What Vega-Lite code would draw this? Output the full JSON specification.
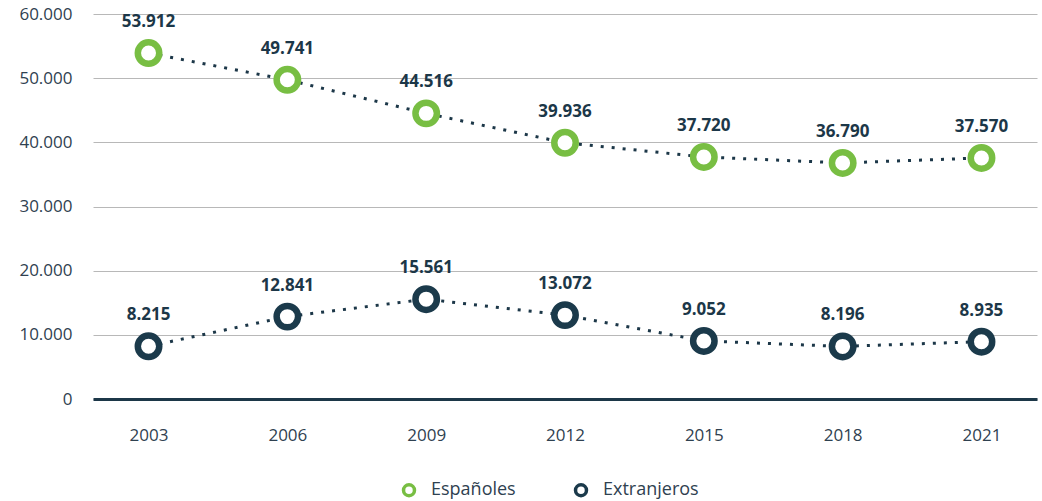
{
  "$schema": "https://vega.github.io/schema/vega-lite/v6.json",
  "width": 944,
  "height": 385,
  "autosize": {"type": "none"},
  "padding": {"left": 93, "top": 14, "right": 5, "bottom": 102},
  "background": "white",
  "config": {
    "locale": {"number": {"decimal": ",", "thousands": ".", "grouping": [3], "currency": ["", " €"]}},
    "view": {"stroke": null},
    "font": "Open Sans"
  },
  "data": {
    "values": [
      {"year": "2003", "serie": "Españoles", "value": 53912},
      {"year": "2006", "serie": "Españoles", "value": 49741},
      {"year": "2009", "serie": "Españoles", "value": 44516},
      {"year": "2012", "serie": "Españoles", "value": 39936},
      {"year": "2015", "serie": "Españoles", "value": 37720},
      {"year": "2018", "serie": "Españoles", "value": 36790},
      {"year": "2021", "serie": "Españoles", "value": 37570},
      {"year": "2003", "serie": "Extranjeros", "value": 8215},
      {"year": "2006", "serie": "Extranjeros", "value": 12841},
      {"year": "2009", "serie": "Extranjeros", "value": 15561},
      {"year": "2012", "serie": "Extranjeros", "value": 13072},
      {"year": "2015", "serie": "Extranjeros", "value": 9052},
      {"year": "2018", "serie": "Extranjeros", "value": 8196},
      {"year": "2021", "serie": "Extranjeros", "value": 8935}
    ]
  },
  "encoding": {
    "x": {
      "field": "year", "type": "ordinal", "title": null,
      "scale": {"type": "point", "padding": 0.4},
      "axis": {
        "labelAngle": 0, "ticks": false, "grid": false,
        "domainColor": "#1c3748", "domainWidth": 3,
        "labelFontSize": 17, "labelColor": "#2f4150", "labelPadding": 28
      }
    },
    "y": {
      "field": "value", "type": "quantitative", "title": null,
      "scale": {"domain": [0, 60000], "nice": false},
      "axis": {
        "values": [0, 10000, 20000, 30000, 40000, 50000, 60000],
        "format": ",d", "domain": false, "ticks": false,
        "gridColor": "#b8b8b8", "gridWidth": 1,
        "labelFontSize": 17, "labelColor": "#2f4150", "labelPadding": 21
      }
    }
  },
  "layer": [
    {
      "mark": {"type": "line", "color": "#1c3748", "strokeWidth": 3, "strokeDash": [3, 8]},
      "encoding": {"detail": {"field": "serie"}}
    },
    {
      "mark": {"type": "point", "shape": "circle", "filled": false, "fill": "white", "fillOpacity": 1, "strokeWidth": 6.5, "size": 460, "opacity": 1},
      "encoding": {
        "stroke": {
          "field": "serie", "type": "nominal",
          "scale": {"domain": ["Españoles", "Extranjeros"], "range": ["#78be43", "#1b3a4b"]},
          "legend": {
            "title": null, "orient": "none", "legendX": 307, "legendY": 467,
            "direction": "horizontal",
            "labelFontSize": 18, "labelColor": "#2f4150", "symbolType": "circle",
            "symbolSize": 120, "symbolStrokeWidth": 3.5, "symbolFillColor": "white",
            "columnPadding": 52, "labelOffset": 13
          }
        }
      }
    },
    {
      "mark": {"type": "text", "fontWeight": "bold", "fontSize": 17, "color": "#1c3748", "dy": -31, "baseline": "middle"},
      "encoding": {"text": {"field": "value", "type": "quantitative", "format": ",d"}}
    }
  ]
}
